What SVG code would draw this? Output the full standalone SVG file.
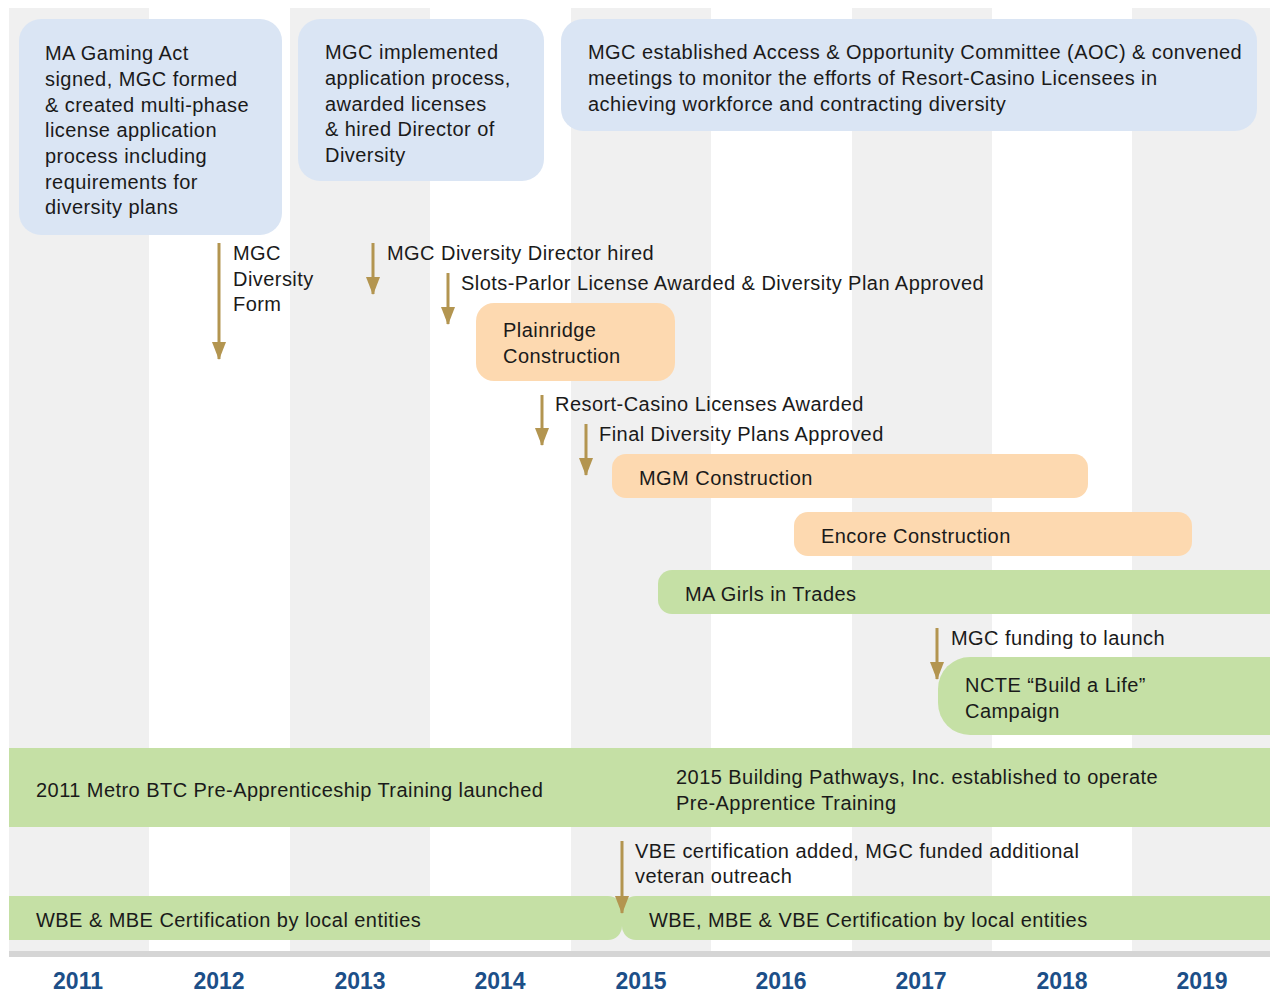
<svg xmlns="http://www.w3.org/2000/svg" width="1270" height="992" viewBox="0 0 1270 992">
<defs>
<style>
.t{font-family:"Liberation Sans",Arial,sans-serif;font-size:20px;letter-spacing:0.45px;fill:#1a1a1a}
.yr{font-family:"Liberation Sans",Arial,sans-serif;font-size:23px;font-weight:bold;fill:#1c4f88;text-anchor:middle}
.blue{fill:#dae5f4}
.org{fill:#fdd9b0}
.grn{fill:#c5e0a5}
.g{fill:#f0f0f0}
.arr{stroke:#b39550;stroke-width:3;fill:none}
</style>
<marker id="ah" viewBox="0 0 18 14" refX="17" refY="7" markerWidth="18" markerHeight="14" markerUnits="userSpaceOnUse" orient="auto">
<path d="M0,0 L18,7 L0,14 Z" fill="#b39550"/>
</marker>
</defs>
<rect width="1270" height="992" fill="#ffffff"/>
<g id="columns">
<rect class="g" x="9" y="8" width="140" height="943"/>
<rect class="g" x="290" y="8" width="140" height="943"/>
<rect class="g" x="571" y="8" width="140" height="943"/>
<rect class="g" x="852" y="8" width="140" height="943"/>
<rect class="g" x="1132" y="8" width="138" height="943"/>
<rect x="9" y="951" width="1261" height="6" fill="#d5d5d5"/>
</g>
<g id="years">
<text class="yr" x="78" y="989">2011</text>
<text class="yr" x="219" y="989">2012</text>
<text class="yr" x="360" y="989">2013</text>
<text class="yr" x="500" y="989">2014</text>
<text class="yr" x="641" y="989">2015</text>
<text class="yr" x="781" y="989">2016</text>
<text class="yr" x="921" y="989">2017</text>
<text class="yr" x="1062" y="989">2018</text>
<text class="yr" x="1202" y="989">2019</text>
</g>
<g id="node-gaming-act">
<rect class="blue" x="19" y="19" width="263" height="216" rx="22"/>
<text class="t" x="45" y="60">MA Gaming Act</text>
<text class="t" x="45" y="86">signed, MGC formed</text>
<text class="t" x="45" y="112">&amp; created multi-phase</text>
<text class="t" x="45" y="137">license application</text>
<text class="t" x="45" y="163">process including</text>
<text class="t" x="45" y="189">requirements for</text>
<text class="t" x="45" y="214">diversity plans</text>
</g>
<g id="node-application">
<rect class="blue" x="298" y="19" width="246" height="162" rx="22"/>
<text class="t" x="325" y="59">MGC implemented</text>
<text class="t" x="325" y="85">application process,</text>
<text class="t" x="325" y="111">awarded licenses</text>
<text class="t" x="325" y="136">&amp; hired Director of</text>
<text class="t" x="325" y="162">Diversity</text>
</g>
<g id="node-aoc">
<rect class="blue" x="561" y="19" width="696" height="112" rx="22"/>
<text class="t" x="588" y="59">MGC established Access &amp; Opportunity Committee (AOC) &amp; convened</text>
<text class="t" x="588" y="85">meetings to monitor the efforts of Resort-Casino Licensees in</text>
<text class="t" x="588" y="111">achieving workforce and contracting diversity</text>
</g>
<g id="node-plainridge">
<rect class="org" x="476" y="303" width="199" height="78" rx="18"/>
<text class="t" x="503" y="337">Plainridge</text>
<text class="t" x="503" y="363">Construction</text>
</g>
<g id="node-mgm">
<rect class="org" x="612" y="454" width="476" height="44" rx="14"/>
<text class="t" x="639" y="485">MGM Construction</text>
</g>
<g id="node-encore">
<rect class="org" x="794" y="512" width="398" height="44" rx="14"/>
<text class="t" x="821" y="543">Encore Construction</text>
</g>
<g id="node-girls">
<path class="grn" d="M672,570 H1270 V614 H672 A14,14 0 0 1 658,600 V584 A14,14 0 0 1 672,570 Z"/>
<text class="t" x="685" y="601">MA Girls in Trades</text>
</g>
<g id="node-ncte">
<path class="grn" d="M970,657 H1270 V735 H970 A32,32 0 0 1 938,703 V689 A32,32 0 0 1 970,657 Z"/>
<text class="t" x="965" y="692">NCTE “Build a Life”</text>
<text class="t" x="965" y="718">Campaign</text>
</g>
<g id="node-preapp">
<rect class="grn" x="9" y="748" width="1261" height="79"/>
<text class="t" x="36" y="797">2011 Metro BTC Pre-Apprenticeship Training launched</text>
<text class="t" x="676" y="784">2015 Building Pathways, Inc. established to operate</text>
<text class="t" x="676" y="810">Pre-Apprentice Training</text>
</g>
<g id="node-wbe-mbe">
<path class="grn" d="M9,896 H608 A14,14 0 0 1 622,910 V926 A14,14 0 0 1 608,940 H9 Z"/>
<text class="t" x="36" y="927">WBE &amp; MBE Certification by local entities</text>
</g>
<g id="node-wbe-mbe-vbe">
<path class="grn" d="M636,896 H1270 V940 H636 A14,14 0 0 1 622,926 V910 A14,14 0 0 1 636,896 Z"/>
<text class="t" x="649" y="927">WBE, MBE &amp; VBE Certification by local entities</text>
</g>
<g id="connectors">
<line class="arr" x1="219" y1="243" x2="219" y2="359" marker-end="url(#ah)"/>
<line class="arr" x1="373" y1="243" x2="373" y2="294" marker-end="url(#ah)"/>
<line class="arr" x1="448" y1="273" x2="448" y2="324" marker-end="url(#ah)"/>
<line class="arr" x1="542" y1="395" x2="542" y2="445" marker-end="url(#ah)"/>
<line class="arr" x1="586" y1="424" x2="586" y2="475" marker-end="url(#ah)"/>
<line class="arr" x1="937" y1="628" x2="937" y2="679" marker-end="url(#ah)"/>
<line class="arr" x1="622" y1="841" x2="622" y2="913" marker-end="url(#ah)"/>
</g>
<g id="labels">
<text class="t" x="233" y="260">MGC</text>
<text class="t" x="233" y="286">Diversity</text>
<text class="t" x="233" y="311">Form</text>
<text class="t" x="387" y="260">MGC Diversity Director hired</text>
<text class="t" x="461" y="290">Slots-Parlor License Awarded &amp; Diversity Plan Approved</text>
<text class="t" x="555" y="411">Resort-Casino Licenses Awarded</text>
<text class="t" x="599" y="441">Final Diversity Plans Approved</text>
<text class="t" x="951" y="645">MGC funding to launch</text>
<text class="t" x="635" y="858">VBE certification added, MGC funded additional</text>
<text class="t" x="635" y="883">veteran outreach</text>
</g>
</svg>
